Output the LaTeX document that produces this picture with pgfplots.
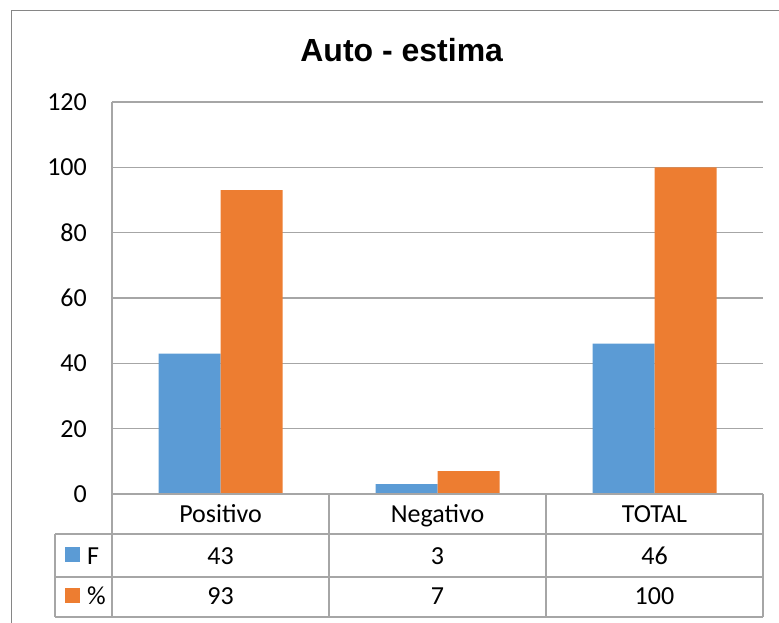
\documentclass[border=0pt]{standalone}
\usepackage{fontspec}
\setmainfont{Carlito}
\newfontfamily\titlefont{Liberation Sans}
\usepackage{pgfplots}
\pgfplotsset{compat=1.18}
\definecolor{xblue}{RGB}{91,155,213}
\definecolor{xorange}{RGB}{237,125,49}
\definecolor{xgrid}{RGB}{166,166,166}
\definecolor{xframe}{RGB}{134,134,134}
\begin{document}
\begin{tikzpicture}[x=1pt,y=1pt]
\draw[xframe, line width=1pt] (11,611) rectangle (800,-18);
\node[anchor=base, font=\titlefont\bfseries\fontsize{32}{36}\selectfont, inner sep=0pt] at (401.7,560.3) {Auto - estima};
\begin{axis}[at={(112pt,128pt)}, anchor=south west, scale only axis, width=651pt, height=392pt,
  xmin=-0.5, xmax=2.5, ymin=0, ymax=120, ytick={0,20,...,120}, xtick=\empty,
  ymajorgrids, grid style={xgrid, line width=1.3pt},
  separate axis lines, axis x line*=bottom, axis y line*=left,
  axis line style={xgrid, line width=1.3pt, -},
  major tick length=0pt,
  yticklabel style={font=\fontsize{26}{30}\selectfont, inner sep=0pt, anchor=east, xshift=-25pt},
  /pgf/number format/assume math mode=true,
  ybar=0pt, bar width=62pt]
\addplot[fill=xblue, draw=none] coordinates {(0,43) (1,3) (2,46)};
\addplot[fill=xorange, draw=none] coordinates {(0,93) (1,7) (2,100)};
\end{axis}
% data table
\begin{scope}[xgrid, line width=1.3pt]
\draw (112,128) -- (763,128);
\draw (55,88) -- (763,88);
\draw (55,45) -- (763,45);
\draw (55,5) -- (763,5);
\draw (55,88) -- (55,5);
\draw (112,128) -- (112,5);
\draw (329,128) -- (329,5);
\draw (546,128) -- (546,5);
\draw (763,128) -- (763,5);
\end{scope}
\begin{scope}[every node/.style={font=\fontsize{26}{30}\selectfont, inner sep=0pt, anchor=base}]
\node at (220.5,99.3) {Positivo};
\node at (437.5,99.3) {Negativo};
\node at (654.5,99.3) {TOTAL};
\node at (220.5,57.7) {43};
\node at (437.5,57.7) {3};
\node at (654.5,57.7) {46};
\node at (220.5,17.7) {93};
\node at (437.5,17.7) {7};
\node at (654.5,17.7) {100};
\node[anchor=base west] at (87,57.7) {F};
\node[anchor=base west] at (87,17.7) {\%};
\end{scope}
\fill[xblue] (65,74.7) rectangle (80,59.7);
\fill[xorange] (65,33.7) rectangle (80,19.3);
\pgfresetboundingbox
\path[use as bounding box] (0,0) rectangle (779,622);
\end{tikzpicture}
\end{document}
